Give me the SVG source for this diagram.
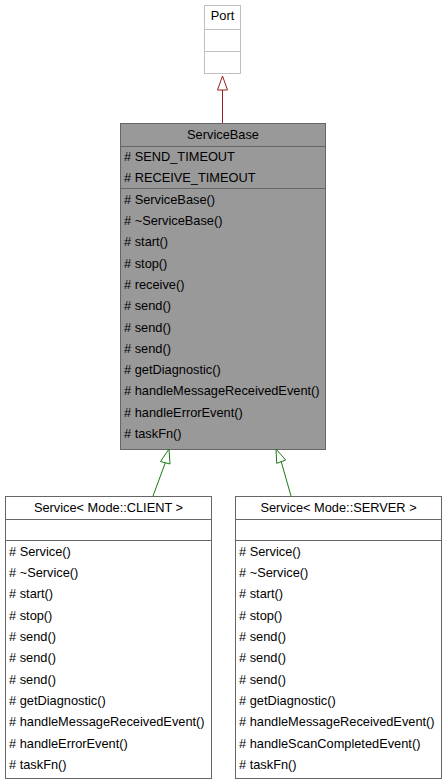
<svg xmlns="http://www.w3.org/2000/svg" width="445" height="784" viewBox="0 0 445 784">
<style>
text{font-family:"Liberation Sans",Arial,sans-serif;font-size:12.8px;fill:#000}
.c{text-anchor:middle}
.box{fill:#fff;stroke:#666;stroke-width:1}
.base{fill:#999;stroke:#666;stroke-width:1}
.port{fill:#fff;stroke:#bfbfbf;stroke-width:1}
.sepd{stroke:#666;stroke-width:1}
.sepl{stroke:#bfbfbf;stroke-width:1}
.inh{fill:none;stroke:#1a7a1a;stroke-width:1}
.inhr{fill:none;stroke:#9a1c1c;stroke-width:1}
</style>
<rect width="445" height="784" fill="#fff"/>
<g id="Port">
<rect class="port" x="204.5" y="5.5" width="36" height="68"/>
<line class="sepl" x1="204.5" y1="29.5" x2="240.5" y2="29.5"/>
<line class="sepl" x1="204.5" y1="51.5" x2="240.5" y2="51.5"/>
<text class="c" x="222.5" y="20">Port</text>
</g>
<g id="ServiceBase">
<rect class="base" x="120.5" y="123.5" width="205" height="326"/>
<line class="sepd" x1="120.5" y1="146.5" x2="325.5" y2="146.5"/>
<line class="sepd" x1="120.5" y1="188.5" x2="325.5" y2="188.5"/>
<text class="c" x="223" y="139">ServiceBase</text>
<text x="124" y="161"># SEND_TIMEOUT</text>
<text x="124" y="182"># RECEIVE_TIMEOUT</text>
<text x="124" y="204"># ServiceBase()</text>
<text x="124" y="225"># ~ServiceBase()</text>
<text x="124" y="246"># start()</text>
<text x="124" y="268"># stop()</text>
<text x="124" y="289"># receive()</text>
<text x="124" y="310"># send()</text>
<text x="124" y="332"># send()</text>
<text x="124" y="353"># send()</text>
<text x="124" y="374"># getDiagnostic()</text>
<text x="124" y="395"># handleMessageReceivedEvent()</text>
<text x="124" y="417"># handleErrorEvent()</text>
<text x="124" y="438"># taskFn()</text>
</g>
<g id="ServiceClient">
<rect class="box" x="5.5" y="496.5" width="206" height="282"/>
<line class="sepd" x1="5.5" y1="519.5" x2="211.5" y2="519.5"/>
<line class="sepd" x1="5.5" y1="540.5" x2="211.5" y2="540.5"/>
<text class="c" x="108.5" y="512">Service&lt; Mode::CLIENT &gt;</text>
<text x="9" y="556"># Service()</text>
<text x="9" y="577"># ~Service()</text>
<text x="9" y="598"># start()</text>
<text x="9" y="620"># stop()</text>
<text x="9" y="641"># send()</text>
<text x="9" y="662"># send()</text>
<text x="9" y="684"># send()</text>
<text x="9" y="705"># getDiagnostic()</text>
<text x="9" y="726"># handleMessageReceivedEvent()</text>
<text x="9" y="748"># handleErrorEvent()</text>
<text x="9" y="769"># taskFn()</text>
</g>
<g id="ServiceServer">
<rect class="box" x="235.5" y="496.5" width="206" height="282"/>
<line class="sepd" x1="235.5" y1="519.5" x2="441.5" y2="519.5"/>
<line class="sepd" x1="235.5" y1="540.5" x2="441.5" y2="540.5"/>
<text class="c" x="338.5" y="512">Service&lt; Mode::SERVER &gt;</text>
<text x="239" y="556"># Service()</text>
<text x="239" y="577"># ~Service()</text>
<text x="239" y="598"># start()</text>
<text x="239" y="620"># stop()</text>
<text x="239" y="641"># send()</text>
<text x="239" y="662"># send()</text>
<text x="239" y="684"># send()</text>
<text x="239" y="705"># getDiagnostic()</text>
<text x="239" y="726"># handleMessageReceivedEvent()</text>
<text x="239" y="748"># handleScanCompletedEvent()</text>
<text x="239" y="769"># taskFn()</text>
</g>
<g id="connectors">
<line class="inhr" x1="222.5" y1="123" x2="222.5" y2="90"/>
<polygon class="inhr" points="222.5,76 217.5,90 227.5,90"/>
<line class="inh" x1="153" y1="496" x2="165.3" y2="462.8"/>
<polygon class="inh" points="169,449 160.5,461.5 170,464"/>
<line class="inh" x1="291" y1="496" x2="281.2" y2="461.6"/>
<polygon class="inh" points="276,449 276.7,463.3 285.7,460"/>
</g>
</svg>
